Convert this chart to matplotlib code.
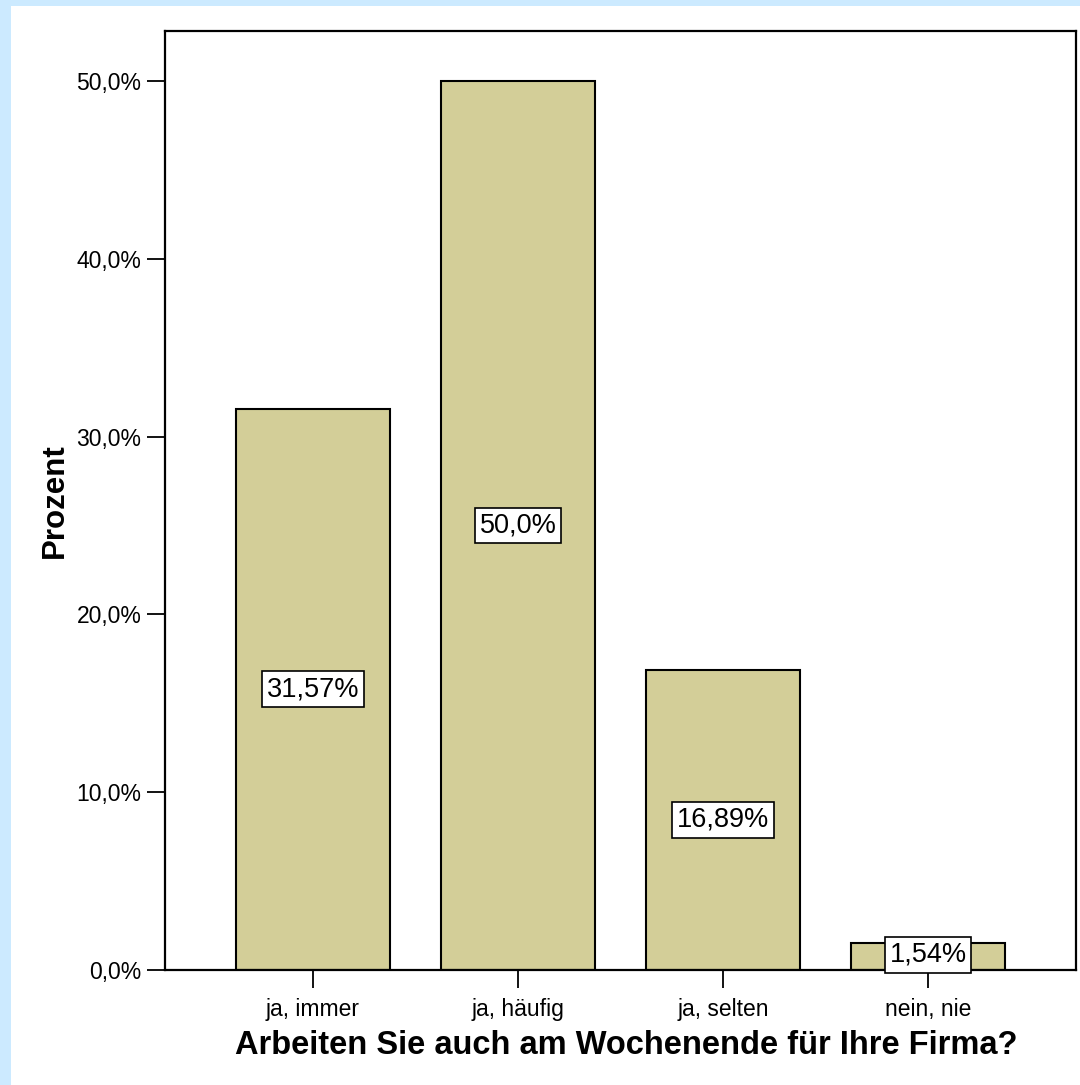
import matplotlib.pyplot as plt
from matplotlib.patches import Rectangle
from matplotlib.ticker import FuncFormatter

plt.rcParams["font.family"] = ["Liberation Sans", "DejaVu Sans"]

categories = ["ja, immer", "ja, häufig", "ja, selten", "nein, nie"]
percent = [31.57, 50.0, 16.89, 1.54]
bar_labels = ["31,57%", "50,0%", "16,89%", "1,54%"]
yticks = [0, 10, 20, 30, 40, 50]

W, H = 1080, 1085
fig = plt.figure(figsize=(W / 100, H / 100), dpi=100, facecolor="#cceaff")
# white panel inside the light blue frame
fig.patches.append(
    Rectangle((11 / W, 0), 1 - 11 / W, (H - 6) / H, transform=fig.transFigure,
              facecolor="white", edgecolor="none", zorder=-10)
)

ax = fig.add_axes([165 / W, (H - 970) / H, (1076 - 165) / W, (970 - 31) / H])
ax.set_facecolor("white")

x = list(range(len(categories)))
bars = ax.bar(x, percent, width=0.75, color="#d3ce98", edgecolor="black",
              linewidth=1.5, zorder=2)

for xi, v, lab in zip(x, percent, bar_labels):
    ax.text(xi, max(v / 2, 0.85), lab, ha="center", va="center", fontsize=19.5,
            zorder=3,
            bbox=dict(boxstyle="square,pad=0.18", facecolor="white",
                      edgecolor="black", linewidth=1.2))

ax.set_xlim(-0.722, 3.722)
ax.set_ylim(0, 52.81)
ax.set_yticks(yticks)
ax.yaxis.set_major_formatter(FuncFormatter(lambda v, p: f"{v:.1f}%".replace(".", ",")))
ax.set_xticks(x)
ax.set_xticklabels(categories)

ax.tick_params(axis="y", direction="out", length=13, width=1.3, labelsize=16.5, pad=4)
ax.tick_params(axis="x", direction="out", length=13, width=1.3, labelsize=16.5, pad=7)

for s in ax.spines.values():
    s.set_linewidth(1.6)

ax.set_ylabel("Prozent", fontsize=22.5, fontweight="bold")
ax.yaxis.set_label_coords((70 - 165) / (1076 - 165), 0.5)
ax.set_xlabel("Arbeiten Sie auch am Wochenende für Ihre Firma?", fontsize=23.5,
              fontweight="bold")
ax.xaxis.set_label_coords(0.5 + 5.5 / 911, (970 - 1030) / 939)

fig.savefig("out.png", dpi=100, facecolor=fig.get_facecolor())
